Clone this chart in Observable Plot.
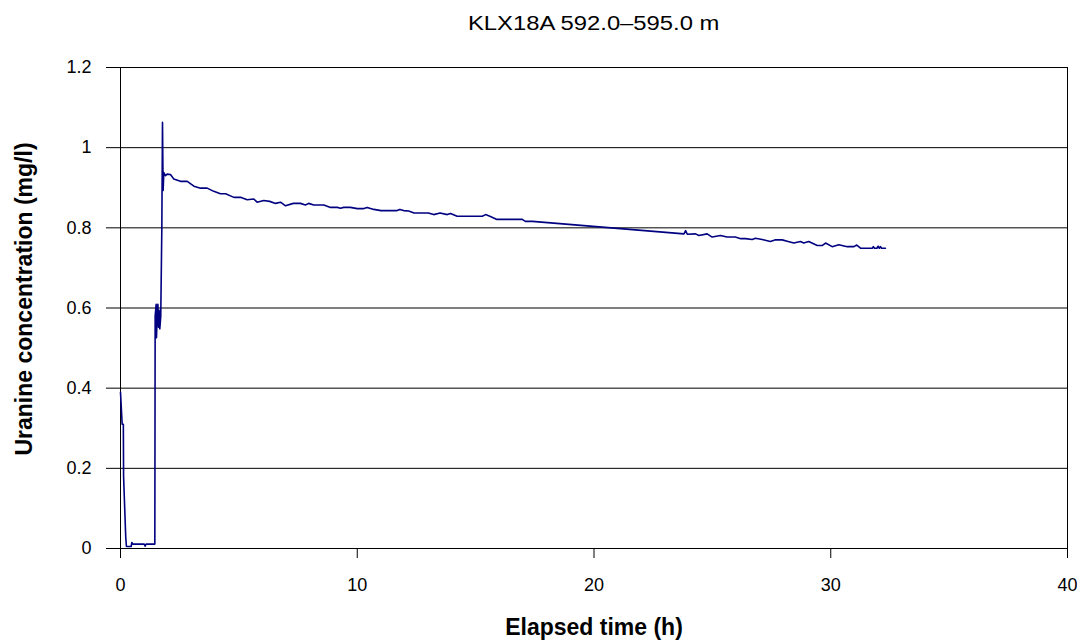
<!DOCTYPE html>
<html><head><meta charset="utf-8">
<script src="https://cdn.jsdelivr.net/npm/d3@7"></script>
<script src="https://cdn.jsdelivr.net/npm/@observablehq/plot@0.6"></script>
<style>
body{margin:0;background:#fff;font-family:"Liberation Sans",Arial,sans-serif;}
#title{margin-left:120px;width:947px;height:57px;line-height:47px;text-align:center;font-size:20px;color:#000}
#title span{display:inline-block;transform:scaleX(1.19);}
</style></head><body>
<div id="title"><span></span></div>
<div id="chart"></div>
<script>
const titleText = "KLX18A 592.0–595.0 m";
const xLabel = "Elapsed time (h)";
const yLabel = "Uranine concentration (mg/l)";
const xTicks = [0, 10, 20, 30, 40];
const yTicks = [0, 0.2, 0.4, 0.6, 0.8, 1, 1.2];

const time = [0, 0.04, 0.07, 0.12, 0.13, 0.22, 0.25, 0.45, 0.48, 0.52, 1.0, 1.04, 1.08, 1.45, 1.464, 1.506, 1.52, 1.55, 1.58, 1.605, 1.633, 1.66, 1.70, 1.746, 1.774, 1.80, 1.83, 1.90, 1.97, 2.11, 2.25, 2.53, 2.82, 3.1, 3.38, 3.66, 3.94, 4.22, 4.44, 4.79, 5.07, 5.35, 5.63, 5.77, 6.05, 6.3, 6.55, 6.76, 6.97, 7.3, 7.6, 7.81, 7.95, 8.16, 8.59, 8.87, 9.16, 9.29, 9.43, 9.71, 10.0, 10.28, 10.42, 10.7, 11.0, 11.4, 11.68, 11.8, 11.96, 12.17, 12.4, 13.0, 13.23, 13.5, 13.8, 13.94, 14.22, 15.28, 15.42, 15.6, 15.9, 16.97, 17.1, 17.4, 23.8, 23.87, 23.94, 24.29, 24.43, 24.78, 24.99, 25.34, 25.62, 25.97, 26.2, 26.4, 26.68, 26.82, 27.1, 27.45, 27.67, 27.95, 28.2, 28.44, 28.72, 28.86, 29.07, 29.43, 29.65, 29.78, 30.06, 30.34, 30.7, 30.98, 31.1, 31.27, 31.6, 31.75, 31.8, 31.85, 31.95, 32.0, 32.05, 32.1, 32.15, 32.31];
const uranine = [0.39, 0.345, 0.31, 0.31, 0.18, 0.03, 0.005, 0.005, 0.015, 0.011, 0.011, 0.006, 0.011, 0.011, 0.58, 0.609, 0.526, 0.586, 0.609, 0.552, 0.594, 0.548, 0.579, 0.80, 1.063, 0.893, 0.938, 0.930, 0.934, 0.933, 0.922, 0.916, 0.916, 0.904, 0.899, 0.899, 0.891, 0.885, 0.885, 0.876, 0.876, 0.870, 0.872, 0.864, 0.868, 0.866, 0.861, 0.864, 0.855, 0.861, 0.861, 0.857, 0.861, 0.857, 0.857, 0.851, 0.851, 0.849, 0.851, 0.851, 0.848, 0.848, 0.851, 0.846, 0.843, 0.843, 0.843, 0.846, 0.843, 0.842, 0.837, 0.837, 0.833, 0.837, 0.833, 0.836, 0.829, 0.829, 0.833, 0.829, 0.821, 0.821, 0.816, 0.816, 0.785, 0.793, 0.784, 0.785, 0.781, 0.785, 0.777, 0.781, 0.777, 0.777, 0.773, 0.773, 0.771, 0.774, 0.771, 0.766, 0.770, 0.770, 0.766, 0.762, 0.766, 0.762, 0.766, 0.756, 0.756, 0.762, 0.753, 0.758, 0.753, 0.753, 0.757, 0.749, 0.749, 0.749, 0.753, 0.749, 0.749, 0.754, 0.749, 0.753, 0.749, 0.749];

const data = time.map((t, i) => ({t, v: uranine[i]}));
document.querySelector("#title span").textContent = titleText;
const font = '"Liberation Sans", Arial, sans-serif';

const chart = Plot.plot({
  width: 1077, height: 585,
  marginLeft: 120, marginRight: 10, marginTop: 10, marginBottom: 94,
  style: {fontFamily: font, fontSize: "18px", color: "#000", background: "#fff"},
  x: {domain: [0, 40]},
  y: {domain: [0, 1.2]},
  marks: [
    Plot.gridY(yTicks, {stroke: "#000", strokeOpacity: 1, strokeWidth: 1}),
    Plot.frame({stroke: "#000", strokeWidth: 1}),
    Plot.axisX({ticks: xTicks, tickSize: 10, tickPadding: 20, label: null, stroke: "#000", strokeOpacity: 1}),
    Plot.axisY({ticks: yTicks, tickSize: 14, tickPadding: 15, tickFormat: d3.format("~g"), label: null, stroke: "#000", strokeOpacity: 1}),
    Plot.line(data, {x: "t", y: "v", stroke: "#000080", strokeWidth: 1.6}),
    Plot.text([xLabel], {text: d => d, frameAnchor: "bottom", textAnchor: "middle", dy: 86, fontSize: 23, fontWeight: "bold", fill: "#000"}),
    Plot.text([yLabel], {text: d => d, frameAnchor: "left", textAnchor: "middle", dx: -96, dy: -9, rotate: -90, fontSize: 23, fontWeight: "bold", fill: "#000"})
  ]
});
document.getElementById("chart").appendChild(chart);
</script>
</body></html>
